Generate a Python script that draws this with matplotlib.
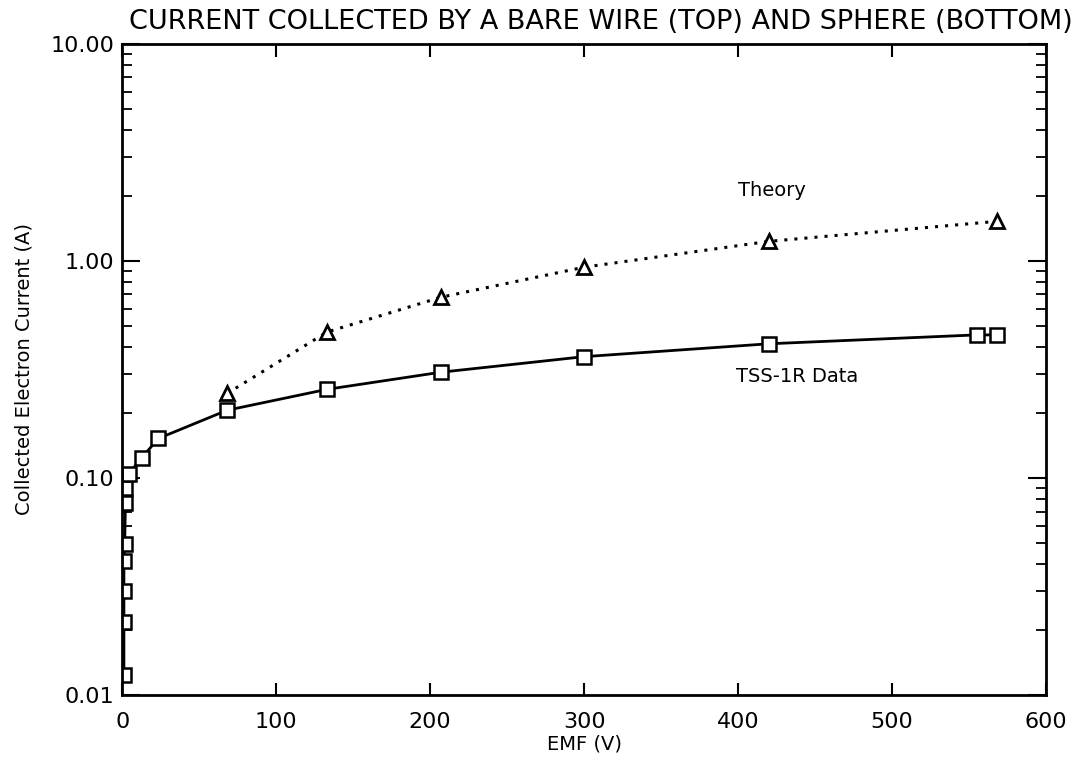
import numpy as np
import matplotlib
matplotlib.use("Agg")
import matplotlib.pyplot as plt
from matplotlib.ticker import FixedLocator, LogLocator, NullFormatter

# theory curve (triangles, dotted)
theory_emf = [68, 133, 207, 300, 420, 568]
theory_cur = [0.245, 0.47, 0.68, 0.935, 1.23, 1.52]

# TSS-1R data (squares, solid)
data_emf = [1, 1, 1, 1, 1.5, 2, 2, 4, 12.6, 23.4, 68, 133, 207, 300, 420, 555, 568]
data_cur = [0.0124, 0.0217, 0.030, 0.0414, 0.0496, 0.0764, 0.09, 0.104,
            0.124, 0.152, 0.205, 0.256, 0.307, 0.362, 0.415, 0.456, 0.456]

y_ticks = [0.01, 0.1, 1.0, 10.0]
y_ticklabels = ["0.01", "0.10", "1.00", "10.00"]
x_ticks = [0, 100, 200, 300, 400, 500, 600]

plt.rcParams['font.family'] = ['DejaVu Sans']

fig = plt.figure(figsize=(10.8, 7.68), dpi=100)
ax = fig.add_axes([0.1133, 0.095, 0.855, 0.848])

ax.plot(data_emf, data_cur, '-', color='black', lw=2,
        marker='s', ms=10, mfc='white', mec='black', mew=1.8)
ax.plot(theory_emf, theory_cur, color='black', lw=2.2, linestyle=(0, (1, 2.3)),
        marker='^', ms=10, mfc='white', mec='black', mew=2)

ax.set_yscale('log')
ax.set_xlim(0, 600)
ax.set_ylim(0.01, 10)

ax.yaxis.set_major_locator(FixedLocator(y_ticks))
ax.set_yticklabels(y_ticklabels)
ax.yaxis.set_minor_locator(LogLocator(base=10, subs=np.arange(2, 10)))
ax.yaxis.set_minor_formatter(NullFormatter())
ax.set_xticks(x_ticks)

ax.tick_params(axis='y', which='major', direction='in', length=13, width=1.5,
               left=True, right=True, labelsize=16, pad=6)
ax.tick_params(axis='y', which='minor', direction='in', length=7, width=1.3,
               left=True, right=True)
ax.tick_params(axis='x', which='major', direction='in', length=9, width=1.5,
               top=True, bottom=True, labelsize=16, pad=12)
for s in ax.spines.values():
    s.set_linewidth(2)

ax.set_xlabel("EMF (V)", fontsize=14, labelpad=2)
ax.set_ylabel("Collected Electron Current (A)", fontsize=14, labelpad=12)

ax.text(400, 2.1, "Theory", fontsize=14, va='center', ha='left')
ax.text(399, 0.293, "TSS-1R Data", fontsize=14, va='center', ha='left')

fig.text(0.556, 0.972, "CURRENT COLLECTED BY A BARE WIRE (TOP) AND SPHERE (BOTTOM)",
         ha='center', va='center', fontsize=19.5, family=['DejaVu Sans'])

fig.savefig("out.png", dpi=100)
